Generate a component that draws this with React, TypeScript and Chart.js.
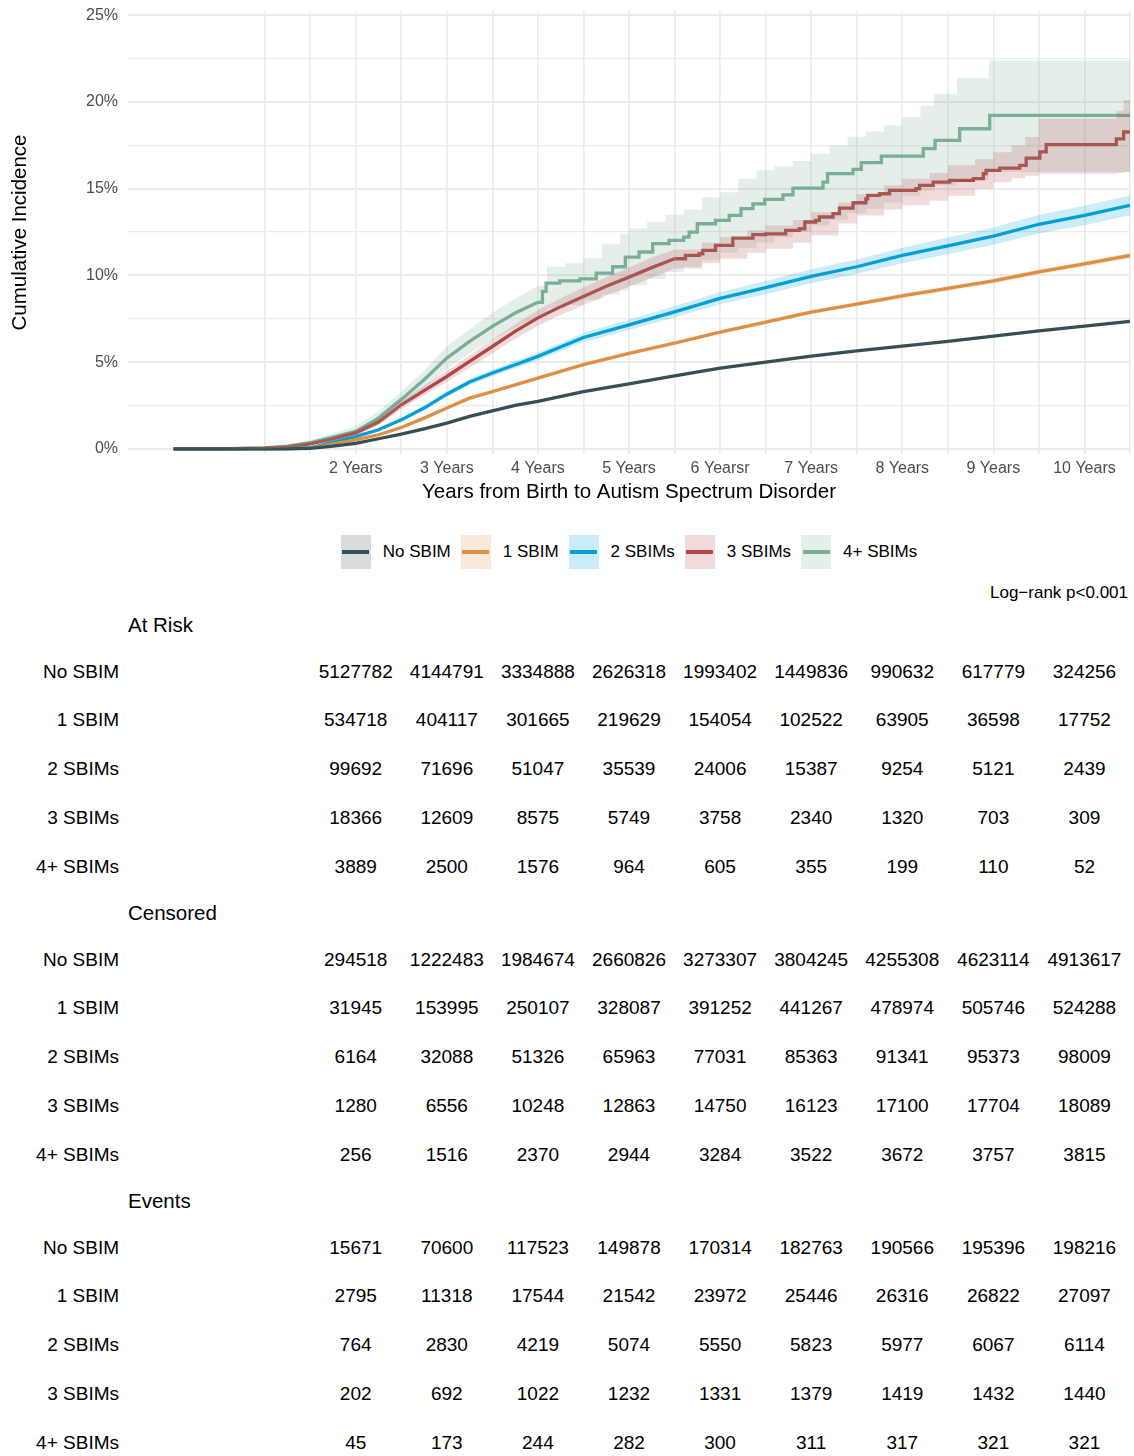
import React, { useEffect, useRef, useState } from 'react';
import { Chart, registerables } from 'chart.js';

Chart.register(...registerables);

const FONT = '"Liberation Sans", Arial, Helvetica, sans-serif';

// ---------- groups ----------
const groupNames = ['No SBIM', '1 SBIM', '2 SBIMs', '3 SBIMs', '4+ SBIMs'];
const groupColors = ['#374E55', '#DF8F44', '#00A1D5', '#B24745', '#79AF97'];
const groupBands = [
  'rgba(55,78,85,0.2)',
  'rgba(223,143,68,0.2)',
  'rgba(0,161,213,0.2)',
  'rgba(178,71,69,0.2)',
  'rgba(121,175,151,0.2)',
];

// ---------- cumulative incidence (%) ----------
const smoothTimes = [0, 0.5, 1, 1.25, 1.5, 1.75, 2, 2.25, 2.5, 2.75, 3, 3.25, 3.5, 3.75, 4, 4.5, 5, 5.5, 6, 6.5, 7, 7.5, 8, 8.5, 9, 9.5, 10, 10.5];
const noSbim = [0, 0, 0, 0, 0.02, 0.15, 0.31, 0.58, 0.85, 1.15, 1.48, 1.87, 2.19, 2.5, 2.73, 3.3, 3.75, 4.2, 4.65, 5.0, 5.35, 5.65, 5.92, 6.2, 6.5, 6.8, 7.08, 7.35];
const oneSbim = [0, 0, 0, 0.01, 0.04, 0.29, 0.52, 0.81, 1.23, 1.77, 2.35, 2.92, 3.3, 3.69, 4.08, 4.85, 5.5, 6.1, 6.73, 7.3, 7.88, 8.35, 8.82, 9.25, 9.68, 10.2, 10.67, 11.15];
const oneSbimLower = [0, 0, 0, 0.01, 0.03, 0.27, 0.49, 0.78, 1.19, 1.72, 2.3, 2.86, 3.24, 3.62, 4.01, 4.77, 5.41, 6.01, 6.63, 7.19, 7.77, 8.23, 8.69, 9.11, 9.54, 10.05, 10.52, 10.99];
const oneSbimUpper = [0, 0, 0, 0.01, 0.05, 0.31, 0.55, 0.84, 1.27, 1.82, 2.4, 2.98, 3.36, 3.76, 4.15, 4.93, 5.59, 6.19, 6.83, 7.41, 7.99, 8.47, 8.95, 9.39, 9.82, 10.35, 10.82, 11.31];
const twoSbim = [0, 0, 0.01, 0.02, 0.06, 0.38, 0.7, 1.1, 1.67, 2.35, 3.15, 3.85, 4.37, 4.85, 5.33, 6.42, 7.15, 7.9, 8.68, 9.3, 9.95, 10.5, 11.15, 11.7, 12.27, 12.95, 13.46, 14.04];
const twoSbimLower = [0, 0, 0, 0.01, 0.04, 0.33, 0.63, 1.02, 1.57, 2.23, 3.0, 3.68, 4.18, 4.64, 5.1, 6.15, 6.85, 7.57, 8.33, 8.92, 9.55, 10.08, 10.7, 11.22, 11.77, 12.42, 12.9, 13.47];
const twoSbimUpper = [0, 0, 0.02, 0.03, 0.08, 0.43, 0.77, 1.18, 1.77, 2.47, 3.3, 4.02, 4.56, 5.06, 5.56, 6.69, 7.45, 8.23, 9.03, 9.68, 10.35, 10.92, 11.6, 12.18, 12.77, 13.48, 14.02, 14.61];

const threeSmoothTimes = [0, 0.5, 1, 1.25, 1.5, 1.75, 2, 2.25, 2.5, 2.75, 3, 3.25, 3.5, 3.75, 4, 4.25, 4.5, 4.75, 5, 5.25, 5.5];
const threeSmooth = [0, 0, 0.04, 0.1, 0.29, 0.58, 0.92, 1.54, 2.54, 3.35, 4.17, 5.04, 5.9, 6.77, 7.55, 8.2, 8.79, 9.37, 9.9, 10.45, 10.96];
const threeSmoothLower = [0, 0, 0.02, 0.06, 0.22, 0.48, 0.78, 1.36, 2.3, 3.07, 3.85, 4.68, 5.5, 6.35, 7.1, 7.72, 8.28, 8.84, 9.35, 9.87, 10.4];
const threeSmoothUpper = [0, 0, 0.06, 0.14, 0.36, 0.68, 1.06, 1.72, 2.78, 3.63, 4.49, 5.4, 6.3, 7.19, 8.0, 8.68, 9.3, 9.9, 10.45, 11.03, 11.5];
const threeStepTimes = [5.5, 5.62, 5.77, 5.81, 5.95, 6.14, 6.36, 6.5, 6.72, 6.87, 6.93, 7.05, 7.09, 7.24, 7.31, 7.46, 7.6, 7.62, 7.75, 7.86, 8.15, 8.19, 8.34, 8.52, 8.78, 8.89, 8.92, 9.07, 9.29, 9.36, 9.51, 9.58, 10.35, 10.43, 10.5];
const threeStep = [10.96, 11.15, 11.25, 11.44, 11.73, 12.15, 12.35, 12.4, 12.6, 12.69, 13.08, 13.17, 13.37, 13.56, 13.88, 14.19, 14.42, 14.62, 14.71, 14.9, 15.0, 15.19, 15.38, 15.48, 15.58, 15.87, 16.06, 16.19, 16.35, 16.77, 17.12, 17.54, 17.88, 18.27, 18.27];
const threeBandTimes = [5.5, 5.8, 6.0, 6.3, 6.5, 6.8, 7.0, 7.3, 7.5, 7.8, 8.0, 8.3, 8.5, 8.8, 9.0, 9.2, 9.35, 9.5, 10.35, 10.43, 10.5];
const threeBandUpper = [11.5, 11.9, 12.2, 12.6, 12.88, 13.2, 13.65, 14.2, 14.7, 15.2, 15.58, 15.9, 16.35, 16.7, 17.1, 17.5, 17.98, 19.04, 19.5, 20.1, 20.1];
const threeBandLower = [10.4, 10.7, 10.96, 11.3, 11.54, 11.9, 12.3, 13.0, 13.46, 13.8, 14.04, 14.3, 14.6, 15.0, 15.38, 15.6, 15.75, 15.87, 15.9, 15.96, 15.96];

const fourSmoothTimes = [0, 0.5, 1, 1.25, 1.5, 1.75, 2, 2.25, 2.5, 2.75, 3, 3.25, 3.5, 3.75, 4];
const fourSmooth = [0, 0, 0.05, 0.15, 0.35, 0.67, 1.0, 1.77, 2.85, 3.98, 5.23, 6.19, 7.06, 7.83, 8.45];
const fourSmoothLower = [0, 0, 0.01, 0.07, 0.2, 0.45, 0.72, 1.4, 2.4, 3.45, 4.6, 5.5, 6.3, 7.0, 7.6];
const fourSmoothUpper = [0, 0, 0.09, 0.23, 0.5, 0.9, 1.3, 2.15, 3.3, 4.5, 5.9, 6.9, 7.85, 8.65, 9.4];
const fourStepTimes = [4.0, 4.05, 4.09, 4.24, 4.46, 4.64, 4.82, 4.96, 5.11, 5.26, 5.44, 5.6, 5.66, 5.75, 5.95, 6.1, 6.23, 6.36, 6.49, 6.69, 6.8, 7.13, 7.18, 7.46, 7.55, 7.77, 8.23, 8.36, 8.63, 8.96, 10.5];
const fourStep = [8.45, 9.08, 9.56, 9.69, 9.8, 10.13, 10.5, 11.06, 11.35, 11.83, 12.02, 12.21, 12.5, 12.98, 13.17, 13.46, 13.85, 14.13, 14.38, 14.65, 15.04, 15.38, 15.87, 16.12, 16.5, 16.88, 17.31, 17.79, 18.46, 19.23, 19.23];
const fourBandTimes = [4.0, 4.1, 4.3, 4.5, 4.7, 4.9, 5.0, 5.2, 5.4, 5.6, 5.8, 6.0, 6.2, 6.4, 6.6, 6.8, 7.0, 7.2, 7.4, 7.6, 7.8, 8.0, 8.2, 8.35, 8.6, 8.95, 10.5];
const fourBandUpper = [9.4, 10.5, 10.7, 11.0, 11.8, 12.4, 12.7, 13.1, 13.5, 13.8, 14.5, 14.8, 15.58, 16.06, 16.3, 16.6, 17.02, 17.5, 18.0, 18.3, 18.65, 19.13, 19.8, 20.48, 21.38, 22.4, 22.4];
const fourBandLower = [7.6, 8.1, 8.3, 8.6, 8.9, 9.13, 9.42, 9.8, 10.2, 10.5, 10.9, 11.3, 11.6, 11.9, 12.2, 12.5, 12.88, 13.2, 13.6, 13.85, 14.2, 14.6, 14.9, 15.2, 15.5, 15.96, 15.96];

// ---------- axes ----------
const xGridYears = [1, 1.5, 2, 2.5, 3, 3.5, 4, 4.5, 5, 5.5, 6, 6.5, 7, 7.5, 8, 8.5, 9, 9.5, 10, 10.5];
const xTickYears = [2, 3, 4, 5, 6, 7, 8, 9, 10];
const xTickLabels = ['2 Years', '3 Years', '4 Years', '5 Years', '6 Yearsr', '7 Years', '8 Years', '9 Years', '10 Years'];
const yGridValues = [0, 2.5, 5, 7.5, 10, 12.5, 15, 17.5, 20, 22.5, 25];
const yTickValues = [0, 5, 10, 15, 20, 25];

// ---------- risk table ----------
const tableYears = [2, 3, 4, 5, 6, 7, 8, 9, 10];
const atRiskNoSbim = [5127782, 4144791, 3334888, 2626318, 1993402, 1449836, 990632, 617779, 324256];
const atRiskOneSbim = [534718, 404117, 301665, 219629, 154054, 102522, 63905, 36598, 17752];
const atRiskTwoSbim = [99692, 71696, 51047, 35539, 24006, 15387, 9254, 5121, 2439];
const atRiskThreeSbim = [18366, 12609, 8575, 5749, 3758, 2340, 1320, 703, 309];
const atRiskFourSbim = [3889, 2500, 1576, 964, 605, 355, 199, 110, 52];
const censoredNoSbim = [294518, 1222483, 1984674, 2660826, 3273307, 3804245, 4255308, 4623114, 4913617];
const censoredOneSbim = [31945, 153995, 250107, 328087, 391252, 441267, 478974, 505746, 524288];
const censoredTwoSbim = [6164, 32088, 51326, 65963, 77031, 85363, 91341, 95373, 98009];
const censoredThreeSbim = [1280, 6556, 10248, 12863, 14750, 16123, 17100, 17704, 18089];
const censoredFourSbim = [256, 1516, 2370, 2944, 3284, 3522, 3672, 3757, 3815];
const eventsNoSbim = [15671, 70600, 117523, 149878, 170314, 182763, 190566, 195396, 198216];
const eventsOneSbim = [2795, 11318, 17544, 21542, 23972, 25446, 26316, 26822, 27097];
const eventsTwoSbim = [764, 2830, 4219, 5074, 5550, 5823, 5977, 6067, 6114];
const eventsThreeSbim = [202, 692, 1022, 1232, 1331, 1379, 1419, 1432, 1440];
const eventsFourSbim = [45, 173, 244, 282, 300, 311, 317, 321, 321];

const sections = [
  { title: 'At Risk', rows: [atRiskNoSbim, atRiskOneSbim, atRiskTwoSbim, atRiskThreeSbim, atRiskFourSbim] },
  { title: 'Censored', rows: [censoredNoSbim, censoredOneSbim, censoredTwoSbim, censoredThreeSbim, censoredFourSbim] },
  { title: 'Events', rows: [eventsNoSbim, eventsOneSbim, eventsTwoSbim, eventsThreeSbim, eventsFourSbim] },
];

const pts = (times: number[], vals: number[]) => times.map((t, i) => ({ x: t, y: vals[i] }));

function lineDs(times: number[], vals: number[], g: number, stepped: boolean) {
  return {
    data: pts(times, vals),
    borderColor: groupColors[g],
    backgroundColor: groupColors[g],
    borderWidth: 3.3,
    pointRadius: 0,
    pointHoverRadius: 0,
    fill: false,
    tension: 0,
    stepped: stepped,
    order: 2,
  };
}

function bandDs(times: number[], upper: number[], lower: number[], g: number, stepped: boolean) {
  return [
    {
      data: pts(times, upper),
      borderColor: 'transparent',
      borderWidth: 0,
      backgroundColor: groupBands[g],
      pointRadius: 0,
      pointHoverRadius: 0,
      fill: '+1',
      tension: 0,
      stepped: stepped,
      order: 1,
    },
    {
      data: pts(times, lower),
      borderColor: 'transparent',
      borderWidth: 0,
      backgroundColor: 'transparent',
      pointRadius: 0,
      pointHoverRadius: 0,
      fill: false,
      tension: 0,
      stepped: stepped,
      order: 1,
    },
  ];
}

export default function App() {
  const canvasRef = useRef<HTMLCanvasElement>(null);
  const [colX, setColX] = useState<number[]>([]);

  useEffect(() => {
    const datasets: any[] = [
      lineDs(smoothTimes, noSbim, 0, false),
      lineDs(smoothTimes, oneSbim, 1, false),
      lineDs(smoothTimes, twoSbim, 2, false),
      lineDs(threeSmoothTimes, threeSmooth, 3, false),
      lineDs(threeStepTimes, threeStep, 3, true),
      lineDs(fourSmoothTimes, fourSmooth, 4, false),
      lineDs(fourStepTimes, fourStep, 4, true),
      ...bandDs(smoothTimes, oneSbimUpper, oneSbimLower, 1, false),
      ...bandDs(smoothTimes, twoSbimUpper, twoSbimLower, 2, false),
      ...bandDs(threeSmoothTimes, threeSmoothUpper, threeSmoothLower, 3, false),
      ...bandDs(threeBandTimes, threeBandUpper, threeBandLower, 3, true),
      ...bandDs(fourSmoothTimes, fourSmoothUpper, fourSmoothLower, 4, false),
      ...bandDs(fourBandTimes, fourBandUpper, fourBandLower, 4, true),
    ];

    const chart = new Chart(canvasRef.current as HTMLCanvasElement, {
      type: 'line',
      data: { datasets },
      options: {
        animation: false,
        responsive: false,
        devicePixelRatio: 1,
        events: [],
        layout: { padding: { left: 0, right: 4, top: 9, bottom: 0 } },
        plugins: {
          legend: { display: false },
          tooltip: { enabled: false },
        },
        scales: {
          x: {
            type: 'linear',
            min: -0.5,
            max: 10.5,
            afterBuildTicks: (s: any) => {
              s.ticks = xGridYears.map((v) => ({ value: v }));
            },
            afterFit: (s: any) => {
              s.height = 68;
              s.paddingLeft = 0;
              s.paddingRight = 0;
            },
            border: { display: false },
            grid: { color: '#EBEBEB', lineWidth: 1.7, drawTicks: false },
            ticks: {
              autoSkip: false,
              maxRotation: 0,
              minRotation: 0,
              padding: 5,
              color: '#4D4D4D',
              font: { family: FONT, size: 16 },
              callback: (v: any) => {
                const i = xTickYears.indexOf(Number(v));
                return i >= 0 ? xTickLabels[i] : '';
              },
            },
            title: {
              display: true,
              text: 'Years from Birth to Autism Spectrum Disorder',
              color: '#000000',
              font: { family: FONT, size: 20.5 },
              padding: { top: 0, bottom: 17.7 },
            },
          },
          y: {
            type: 'linear',
            min: -0.3,
            max: 25.25,
            afterBuildTicks: (s: any) => {
              s.ticks = yGridValues.map((v) => ({ value: v }));
            },
            afterFit: (s: any) => {
              s.width = 128;
              s.paddingTop = 0;
              s.paddingBottom = 0;
            },
            border: { display: false },
            grid: {
              color: '#EBEBEB',
              drawTicks: false,
              lineWidth: (ctx: any) => (ctx.tick && yTickValues.includes(ctx.tick.value) ? 2 : 1.3),
            },
            ticks: {
              padding: 10,
              color: '#4D4D4D',
              font: { family: FONT, size: 16 },
              callback: (v: any) => (yTickValues.includes(Number(v)) ? `${v}%` : ''),
            },
            title: {
              display: true,
              text: 'Cumulative Incidence',
              color: '#000000',
              font: { family: FONT, size: 20.5 },
              padding: { top: 8.3, bottom: 0 },
            },
          },
        },
      } as any,
    });

    setColX(tableYears.map((y) => chart.scales.x.getPixelForValue(y)));

    return () => chart.destroy();
  }, []);

  const rowH = 24;
  const sectionTops = [625, 913, 1201];

  return (
    <div
      style={{
        position: 'absolute',
        left: 0,
        top: 0,
        width: 1134,
        height: 1456,
        background: '#ffffff',
        fontFamily: FONT,
        overflow: 'hidden',
      }}
    >
      <canvas
        ref={canvasRef}
        width={1134}
        height={520}
        style={{ position: 'absolute', left: 0, top: 2, width: 1134, height: 520 }}
      />

      {/* legend */}
      <div
        style={{
          position: 'absolute',
          left: 128,
          width: 1002,
          top: 535,
          height: 34,
          display: 'flex',
          justifyContent: 'center',
          alignItems: 'center',
        }}
      >
        {groupNames.map((name, g) => (
          <div key={name} style={{ display: 'flex', alignItems: 'center' }}>
            <div
              style={{
                width: 30,
                height: 34,
                background: groupBands[g],
                display: 'flex',
                alignItems: 'center',
                justifyContent: 'center',
              }}
            >
              <div style={{ width: 27, height: 4, background: groupColors[g] }} />
            </div>
            <div
              style={{
                marginLeft: 12,
                marginRight: g < groupNames.length - 1 ? 10 : 0,
                fontSize: 17,
                color: '#000',
                whiteSpace: 'nowrap',
              }}
            >
              {name}
            </div>
          </div>
        ))}
      </div>

      {/* log-rank */}
      <div
        style={{
          position: 'absolute',
          right: 1134 - 1128,
          top: 593 - 12,
          height: 24,
          lineHeight: '24px',
          fontSize: 17,
          color: '#000',
          whiteSpace: 'nowrap',
        }}
      >
        Log−rank p&lt;0.001
      </div>

      {/* risk table */}
      {sections.map((sec, si) => {
        const top = sectionTops[si];
        return (
          <React.Fragment key={sec.title}>
            <div
              style={{
                position: 'absolute',
                left: 128,
                top: top - rowH / 2,
                height: rowH,
                lineHeight: `${rowH}px`,
                fontSize: 20.5,
                color: '#000',
                whiteSpace: 'nowrap',
              }}
            >
              {sec.title}
            </div>
            {sec.rows.map((vals, ri) => {
              const cy = top + 46.5 + 48.9 * ri;
              return (
                <React.Fragment key={ri}>
                  <div
                    style={{
                      position: 'absolute',
                      right: 1134 - 119,
                      top: cy - rowH / 2,
                      height: rowH,
                      lineHeight: `${rowH}px`,
                      fontSize: 19,
                      color: '#000',
                      whiteSpace: 'nowrap',
                    }}
                  >
                    {groupNames[ri]}
                  </div>
                  {colX.length === vals.length &&
                    vals.map((v, ci) => (
                      <div
                        key={ci}
                        style={{
                          position: 'absolute',
                          left: colX[ci] - 60,
                          width: 120,
                          textAlign: 'center',
                          top: cy - rowH / 2,
                          height: rowH,
                          lineHeight: `${rowH}px`,
                          fontSize: 19,
                          color: '#000',
                          whiteSpace: 'nowrap',
                        }}
                      >
                        {v}
                      </div>
                    ))}
                </React.Fragment>
              );
            })}
          </React.Fragment>
        );
      })}
    </div>
  );
}
